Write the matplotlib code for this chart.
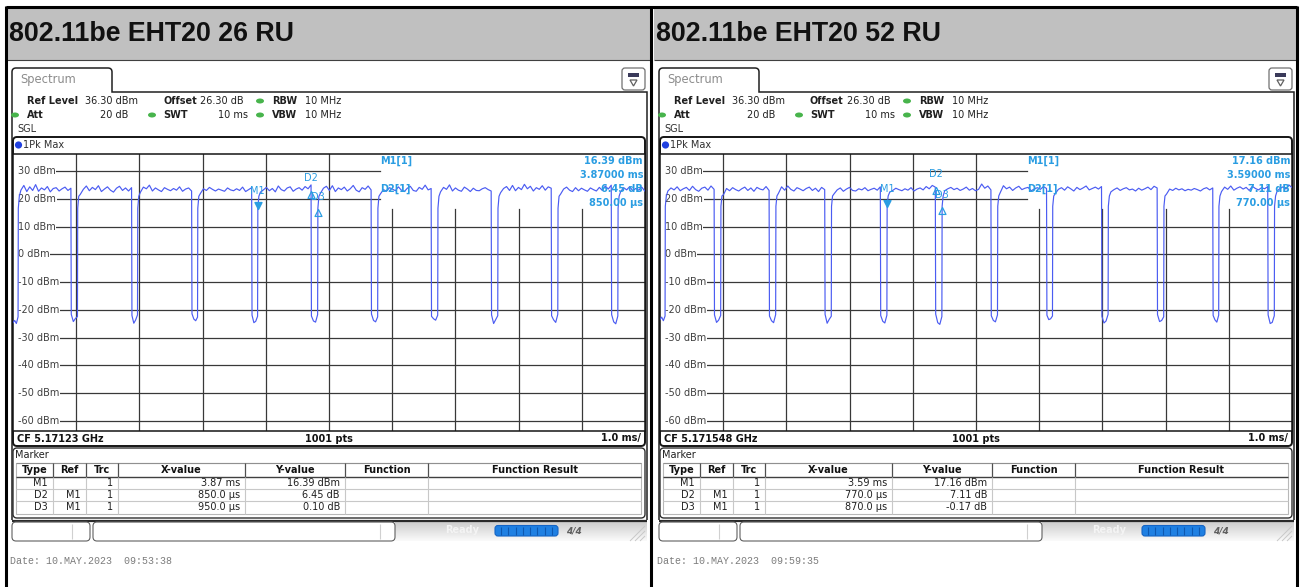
import numpy as np
import matplotlib
matplotlib.use("Agg")
import matplotlib.pyplot as plt
from matplotlib.patches import FancyBboxPatch, Rectangle, Ellipse, Circle, PathPatch, Polygon
from matplotlib.path import Path

# ---------------------------------------------------------------- data
panel_titles = ["802.11be EHT20 26 RU", "802.11be EHT20 52 RU"]
center_freqs = ["5.17123 GHz", "5.171548 GHz"]
timestamps = ["10.MAY.2023  09:53:38", "10.MAY.2023  09:59:35"]

# marker table values
m1_time_ms = [3.87, 3.59]
m1_level_dbm = [16.39, 17.16]
d2_dt_us = [850.0, 770.0]
d2_dl_db = [6.45, 7.11]
d3_dt_us = [950.0, 870.0]
d3_dl_db = [0.10, -0.17]

# level axis (dBm) and sweep (ms)
ref_level = 36.30
level_ticks = [30, 20, 10, 0, -10, -20, -30, -40, -50, -60]
sweep_ms = 10.0

# 26 RU trace: burst start / end times (ms), plateau levels, gap floors
starts_26 = [0.08, 1.02, 1.97, 2.92, 3.87, 4.82, 5.77, 6.72, 7.67, 8.62, 9.57]
ends_26 = [0.92, 1.88, 2.83, 3.78, 4.72, 5.67, 6.62, 7.57, 8.52, 9.47]
plateau_26 = [
    [23.1, 24.8, 22.6, 24.3, 23.0, 25.1, 22.7, 23.9, 23.2, 24.4, 22.5, 23.7, 24.0, 22.8, 23.6, 24.2, 23.0, 23.8],
    [21.6, 23.4, 24.6, 22.9, 24.1, 23.3, 24.7, 22.6, 23.5, 24.3, 23.1, 22.4, 23.8, 24.5, 23.0, 23.9, 22.8, 24.0],
    [22.3, 24.2, 23.6, 24.9, 22.8, 23.9, 23.2, 22.6, 24.0, 23.4, 22.9, 23.7, 23.1, 24.3, 22.7, 23.5, 23.9, 22.8],
    [21.9, 23.6, 23.0, 24.1, 23.4, 22.8, 23.5, 23.1, 22.7, 23.9, 23.2, 22.9, 23.6, 23.0, 24.2, 22.6, 23.3, 24.0],
    [22.4, 23.2, 24.1, 22.9, 23.7, 22.5, 24.6, 23.3, 22.8, 23.9, 24.3, 22.7, 23.5, 24.0, 23.1, 24.4, 23.6, 25.0],
    [22.0, 23.8, 24.5, 23.0, 24.7, 22.6, 23.9, 23.3, 24.2, 22.8, 23.6, 24.8, 23.1, 22.5, 24.0, 23.4, 24.6, 23.2],
    [21.8, 23.3, 22.7, 24.0, 23.5, 22.9, 24.3, 23.1, 22.6, 23.8, 24.5, 23.0, 22.7, 24.1, 23.4, 24.9, 23.2, 23.7],
    [22.5, 24.1, 23.4, 25.0, 22.8, 23.9, 23.1, 22.7, 24.2, 23.5, 22.6, 23.8, 23.0, 22.9, 23.6, 24.0, 23.3, 22.8],
    [22.2, 23.7, 24.4, 23.0, 24.8, 22.9, 24.1, 23.3, 25.2, 23.6, 24.5, 22.8, 24.0, 23.4, 24.7, 23.1, 24.3, 23.8],
    [21.7, 23.5, 24.2, 23.1, 22.6, 24.0, 22.9, 23.8, 23.2, 22.7, 23.9, 23.3, 22.8, 24.1, 23.0, 24.6, 23.5, 24.9],
    [22.6, 24.0, 23.2, 24.4, 22.9, 23.7, 23.1, 24.2, 22.8],
]
floor_26 = [
    [-21.6, -24.2, -23.1, -22.4],
    [-22.0, -24.8, -23.6, -21.8],
    [-21.4, -23.3, -23.9, -22.6],
    [-21.9, -24.6, -24.1, -22.3],
    [-22.2, -24.0, -24.4, -21.7],
    [-21.5, -23.8, -24.3, -22.5],
    [-22.3, -23.2, -23.7, -21.9],
    [-21.8, -24.9, -23.5, -22.1],
    [-22.1, -23.6, -24.5, -21.6],
    [-21.7, -24.3, -25.0, -22.2],
]
lead_26 = [-24.6, -23.8, -24.9, -22.5]
ramp_26 = [16.6, 20.9]

# 52 RU trace
starts_52 = [0.08, 0.96, 1.83, 2.71, 3.59, 4.46, 5.34, 6.21, 7.09, 7.97, 8.84, 9.72]
ends_52 = [0.86, 1.73, 2.61, 3.49, 4.36, 5.24, 6.12, 6.99, 7.87, 8.75, 9.62]
plateau_52 = [
    [22.8, 23.9, 23.2, 24.3, 22.9, 23.6, 24.1, 23.0, 24.5, 23.3, 22.7, 23.8, 24.2, 23.1, 24.6, 23.4],
    [21.5, 23.7, 22.9, 24.0, 23.3, 22.8, 23.6, 24.2, 23.0, 23.9, 22.7, 24.1, 23.5, 23.2, 24.4, 23.0],
    [22.0, 24.3, 23.1, 24.6, 23.4, 22.8, 24.0, 23.5, 22.9, 23.7, 24.2, 23.0, 23.8, 22.6, 24.1, 23.3],
    [21.8, 23.2, 23.9, 22.7, 23.5, 24.1, 23.0, 22.8, 23.6, 23.2, 24.0, 22.9, 23.4, 23.8, 23.1, 24.3],
    [22.4, 23.0, 23.8, 23.3, 22.9, 23.6, 23.1, 24.0, 22.8, 23.5, 23.9, 23.2, 24.4, 23.6, 24.8, 24.2],
    [22.9, 23.6, 24.1, 23.3, 23.8, 23.0, 23.5, 24.2, 23.1, 23.7, 22.9, 23.4, 25.3, 23.8, 24.6, 23.2],
    [22.3, 24.7, 23.6, 24.2, 23.0, 23.9, 24.5, 23.3, 23.8, 24.1, 22.9, 23.5, 24.0, 23.4, 24.4, 23.7],
    [21.9, 23.4, 24.0, 23.1, 24.3, 23.6, 22.8, 24.1, 23.3, 23.9, 24.6, 23.2, 23.7, 24.2, 23.5, 24.4],
    [22.5, 23.3, 23.9, 23.0, 23.6, 24.0, 23.2, 23.5, 22.8, 23.8, 23.1, 23.6, 24.2, 23.3, 24.5, 23.9],
    [21.7, 23.5, 23.0, 23.8, 23.2, 23.6, 22.9, 23.4, 23.1, 23.7, 23.3, 22.8, 23.6, 24.0, 23.2, 23.9],
    [22.6, 24.2, 23.4, 24.6, 23.1, 23.8, 24.3, 23.5, 24.1, 23.0, 24.5, 23.7, 23.2, 24.0, 23.6, 24.4],
    [22.8, 23.7, 24.3, 23.5, 25.0, 24.1],
]
floor_52 = [
    [-21.8, -24.5, -23.7, -22.0],
    [-22.2, -23.9, -24.6, -21.7],
    [-21.6, -24.8, -23.4, -22.3],
    [-22.0, -24.1, -24.7, -21.9],
    [-21.5, -24.6, -25.2, -22.4],
    [-22.1, -23.8, -24.3, -21.8],
    [-21.9, -23.5, -23.2, -22.2],
    [-22.3, -24.7, -24.0, -21.6],
    [-21.7, -24.2, -23.8, -22.5],
    [-22.0, -23.6, -24.4, -21.9],
    [-21.8, -24.9, -24.5, -22.1],
]
lead_52 = [-23.4, -22.6, -23.9, -22.2]
ramp_52 = [17.3, 21.0]

# ---------------------------------------------------------------- styling
W, H = 1300, 587
TRACE = "#4b5cf2"
MARK = "#2a9de2"
GRID = "#383838"
GREEN = "#48b44c"
BAND = "#c0c0c0"

fig = plt.figure(figsize=(13, 5.87), dpi=100, facecolor="white")
bg = fig.add_axes([0, 0, 1, 1])
bg.set_autoscale_on(False)
bg.set_xlim(0, W)
bg.set_ylim(H, 0)
bg.axis("off")


def line(x0, y0, x1, y1, color="k", lw=1.0, z=2):
    bg.plot([x0, x1], [y0, y1], color=color, lw=lw, zorder=z, solid_capstyle="butt")


def rbox(x0, y0, x1, y1, r=4, ec="k", fc="none", lw=1.0, z=2):
    p = FancyBboxPatch((x0 + r, y0 + r), x1 - x0 - 2 * r, y1 - y0 - 2 * r,
                       boxstyle=f"round,pad={r}", ec=ec, fc=fc, lw=lw, zorder=z)
    bg.add_patch(p)


def txt(x, y, s, size=7, weight="normal", ha="left", color="#202020", **kw):
    bg.text(x, y, s, fontsize=size, fontweight=weight, ha=ha, va="center",
            color=color, zorder=5, **kw)


def build_trace(starts, ends, plateaus, floors, lead, ramp):
    t = list(np.linspace(0.0, starts[0], len(lead)))
    y = list(lead)
    for i, s in enumerate(starts):
        t += [s + 0.004, s + 0.02]
        y += ramp
        e = ends[i] if i < len(ends) else sweep_ms
        t += list(np.linspace(s + 0.045, e - 0.004, len(plateaus[i])))
        y += plateaus[i]
        if i < len(ends):
            t += list(np.linspace(e + 0.002, starts[i + 1], len(floors[i])))
            y += floors[i]
    return np.array(t), np.array(y)


tri_down = Path([(-0.5, 1.0), (0.5, 1.0), (0.0, 0.0), (-0.5, 1.0)],
                [Path.MOVETO, Path.LINETO, Path.LINETO, Path.CLOSEPOLY])
tri_up = Path([(-0.5, -1.0), (0.5, -1.0), (0.0, 0.0), (-0.5, -1.0)],
              [Path.MOVETO, Path.LINETO, Path.LINETO, Path.CLOSEPOLY])


def draw_panel(k, ox, starts, ends, plateaus, floors, lead, ramp):
    # title band
    bg.add_patch(Rectangle((ox + 7, 8), 644, 52, fc=BAND, ec="none", zorder=1))
    line(ox + 7, 60, ox + 651, 60, color="#404040", lw=0.8)
    bg.text(ox + 9, 34, panel_titles[k], fontsize=19.3, fontweight="bold",
            family="Liberation Sans", va="center", ha="left", color="#111111", zorder=5)

    # window frame with tab
    verts = [(ox + 12, 520), (ox + 12, 72), (ox + 12, 68), (ox + 16, 68), (ox + 108, 68),
             (ox + 112, 68), (ox + 112, 72), (ox + 112, 92), (ox + 647, 92), (ox + 647, 520)]
    codes = [Path.MOVETO, Path.LINETO, Path.CURVE3, Path.CURVE3, Path.LINETO,
             Path.CURVE3, Path.CURVE3, Path.LINETO, Path.LINETO, Path.LINETO]
    bg.add_patch(PathPatch(Path(verts, codes), fc="none", ec="#202020", lw=1.1, zorder=2))
    txt(ox + 20, 80, "Spectrum", size=8.3, color="#8c8c8c")

    # small keyboard icon
    rbox(ox + 622, 68, ox + 645, 90, r=3, ec="#707070", lw=0.9)
    bg.add_patch(Rectangle((ox + 628, 73), 11, 4, fc="#3a3a5a", ec="none", zorder=3))
    bg.add_patch(Polygon([(ox + 630, 80), (ox + 637, 80), (ox + 633.5, 86)],
                         closed=True, fc="none", ec="#606060", lw=0.9, zorder=3))

    # settings header
    txt(ox + 27, 101, "Ref Level", weight="bold")
    txt(ox + 85, 101, f"{ref_level:.2f} dBm")
    txt(ox + 163, 101, "Offset", weight="bold")
    txt(ox + 200, 101, "26.30 dB")
    txt(ox + 272, 101, "RBW", weight="bold")
    txt(ox + 305, 101, "10 MHz")
    txt(ox + 27, 115, "Att", weight="bold")
    txt(ox + 128, 115, "20 dB", ha="right")
    txt(ox + 163, 115, "SWT", weight="bold")
    txt(ox + 248, 115, "10 ms", ha="right")
    txt(ox + 272, 115, "VBW", weight="bold")
    txt(ox + 305, 115, "10 MHz")
    for gx, gy in [(260, 101), (15, 115), (152, 115), (260, 115)]:
        bg.add_patch(Ellipse((ox + gx, gy), 8, 5, fc=GREEN, ec="none", zorder=3))
    txt(ox + 17, 129, "SGL", color="#303030")

    # trace window box
    rbox(ox + 13, 137, ox + 645, 446, r=4, ec="#151515", lw=1.4, z=2)
    bg.add_patch(Circle((ox + 18.5, 145), 3.6, fc="#2040e0", ec="none", zorder=3))
    txt(ox + 23, 145, "1Pk Max", color="#303030")
    txt(ox + 17, 438.5, "CF " + center_freqs[k], weight="bold", color="#111111")
    txt(ox + 329, 438.5, "1001 pts", weight="bold", ha="center", color="#111111")
    txt(ox + 641, 438.5, "1.0 ms/", weight="bold", ha="right", color="#111111")

    # the diagram
    top_px, bot_px = 153.5, 431.3
    ax = fig.add_axes([(ox + 13) / W, 1 - bot_px / H, 632 / W, (bot_px - top_px) / H])
    ax.set_xlim(0, sweep_ms)
    ax.set_ylim(ref_level - 100, ref_level)
    ax.set_xticks([])
    ax.set_yticks([])
    for sp in ax.spines.values():
        sp.set_color("#151515")
        sp.set_linewidth(1.1)

    info_t = 5.8          # start of the marker readout area
    info_lv = ref_level - 20
    label_t = 0.08
    for d in range(1, 10):
        ymin = ref_level - 100
        ymax = ref_level if d <= 5 else info_lv
        ax.plot([d, d], [ymin, ymax], color=GRID, lw=0.9, zorder=1)
    for lv in level_ticks:
        xmax = info_t if lv > info_lv else sweep_ms
        ax.plot([label_t, xmax], [lv, lv], color=GRID, lw=0.9, zorder=1)
        ax.text(label_t, lv, f"{lv} dBm", fontsize=7, color="#404040", va="center", ha="left",
                zorder=2, bbox=dict(fc="white", ec="none", pad=0.4))

    t, y = build_trace(starts, ends, plateaus, floors, lead, ramp)
    ax.plot(t, y, color=TRACE, lw=0.85, zorder=3)

    # markers
    m1t, m1l = m1_time_ms[k], m1_level_dbm[k]
    d2t, d2l = m1t + d2_dt_us[k] / 1000, m1l + d2_dl_db[k]
    d3t, d3l = m1t + d3_dt_us[k] / 1000, m1l + d3_dl_db[k]
    ax.plot([m1t], [m1l], marker=tri_down, ms=10, color=MARK, mec=MARK, ls="none", zorder=4)
    ax.plot([d2t, d3t], [d2l, d3l], marker=tri_up, ms=10, mfc="none", mec=MARK, mew=0.9,
            ls="none", zorder=4)
    for name, mt, ml, dy in [("M1", m1t, m1l, 9.0), ("D2", d2t, d2l, 5.5), ("D3", d3t, d3l, 5.0)]:
        ax.annotate(name, (mt, ml), xytext=(0, dy), textcoords="offset points",
                    ha="center", va="bottom", fontsize=7, color=MARK, zorder=4)

    # marker readout
    def info(x, yy, s, ha):
        ax.text(x, yy, s, transform=bg.transData, fontsize=7, fontweight="bold",
                color=MARK, ha=ha, va="center", zorder=5, clip_on=False)
    info(ox + 380, 161, "M1[1]", "left")
    info(ox + 643, 161, f"{m1l:.2f} dBm", "right")
    info(ox + 643, 174.5, f"{m1t:.5f} ms", "right")
    info(ox + 380, 189, "D2[1]", "left")
    info(ox + 643, 189, f"{d2_dl_db[k]:.2f} dB", "right")
    info(ox + 643, 203, f"{d2_dt_us[k]:.2f} µs", "right")

    # marker table
    rbox(ox + 13, 448, ox + 645, 518, r=4, ec="#303030", lw=1.0, z=2)
    txt(ox + 15, 455.5, "Marker", color="#202020")
    cols = [16, 53, 86, 118, 245, 345, 428, 641]
    bg.add_patch(Rectangle((ox + 16, 463), 625, 51, fc="none", ec="#b8b8b8", lw=0.8, zorder=2))
    line(ox + 16, 463, ox + 641, 463, color="#909090", lw=0.8)
    line(ox + 16, 477, ox + 641, 477, color="#404040", lw=1.0)
    for yy in (489, 501):
        line(ox + 16, yy, ox + 641, yy, color="#c8c8c8", lw=0.8)
    for cx in cols[1:-1]:
        line(ox + cx, 463, ox + cx, 477, color="#505050", lw=0.9)
        line(ox + cx, 477, ox + cx, 514, color="#c8c8c8", lw=0.8)
    heads = ["Type", "Ref", "Trc", "X-value", "Y-value", "Function", "Function Result"]
    for j, hname in enumerate(heads):
        txt(ox + (cols[j] + cols[j + 1]) / 2, 470, hname, weight="bold", ha="center", color="#111111")
    rows = [("M1", "", "1", f"{m1_time_ms[k]:.2f} ms", f"{m1_level_dbm[k]:.2f} dBm"),
            ("D2", "M1", "1", f"{d2_dt_us[k]:.1f} µs", f"{d2_dl_db[k]:.2f} dB"),
            ("D3", "M1", "1", f"{d3_dt_us[k]:.1f} µs", f"{d3_dl_db[k]:.2f} dB")]
    for r, row in enumerate(rows):
        yy = 483 + 12 * r
        for j, val in enumerate(row):
            txt(ox + cols[j + 1] - 5, yy, val, ha="right", color="#202020")

    # status bar
    line(ox + 12, 520.5, ox + 647, 520.5, color="#2a2a2a", lw=1.6)
    grad = np.linspace(0.80, 0.98, 24)[:, None]
    bg.imshow(grad, extent=(ox + 395, ox + 647, 541, 521.5), cmap="gray", vmin=0, vmax=1,
              aspect="auto", zorder=1)
    rbox(ox + 12, 522, ox + 90, 541, r=4, ec="#606060", lw=0.8)
    line(ox + 72, 524, ox + 72, 539, color="#d0d0d0", lw=0.8)
    rbox(ox + 93, 522, ox + 395, 541, r=4, ec="#606060", lw=0.8)
    line(ox + 380, 524, ox + 380, 539, color="#d0d0d0", lw=0.8)
    txt(ox + 445, 530, "Ready", weight="bold", color="#f4f4f4", size=7)
    rbox(ox + 495, 525.5, ox + 558, 536, r=3, ec="#1464c4", fc="#1f80e2", lw=0.8, z=3)
    for sx in np.linspace(ox + 501, ox + 552, 8):
        line(sx, 526.5, sx, 535, color="#0d58b0", lw=0.8, z=4)
    txt(ox + 566, 530.5, "4/4", weight="bold", color="#606060", size=6.5, style="italic")
    for gx in (630, 635, 640):
        line(ox + gx, 541, ox + 645, 541 - (645 - gx), color="#c8c8c8", lw=0.7)

    # time stamp
    bg.text(ox + 10, 561, "Date: " + timestamps[k], fontsize=7.2, family="Liberation Mono",
            color="#7c7c7c", va="center", ha="left", zorder=5)


draw_panel(0, 0, starts_26, ends_26, plateau_26, floor_26, lead_26, ramp_26)
draw_panel(1, 647, starts_52, ends_52, plateau_52, floor_52, lead_52, ramp_52)

# outer frame
line(6, 7, 1297, 7, color="black", lw=2.2, z=6)
line(6, 6, 6, 587, color="black", lw=2.2, z=6)
line(651, 6, 651, 587, color="black", lw=2.2, z=6)
line(1297, 6, 1297, 587, color="black", lw=2.2, z=6)

bg.set_xlim(0, W)
bg.set_ylim(H, 0)
fig.savefig("out.png", dpi=100, facecolor="white")
